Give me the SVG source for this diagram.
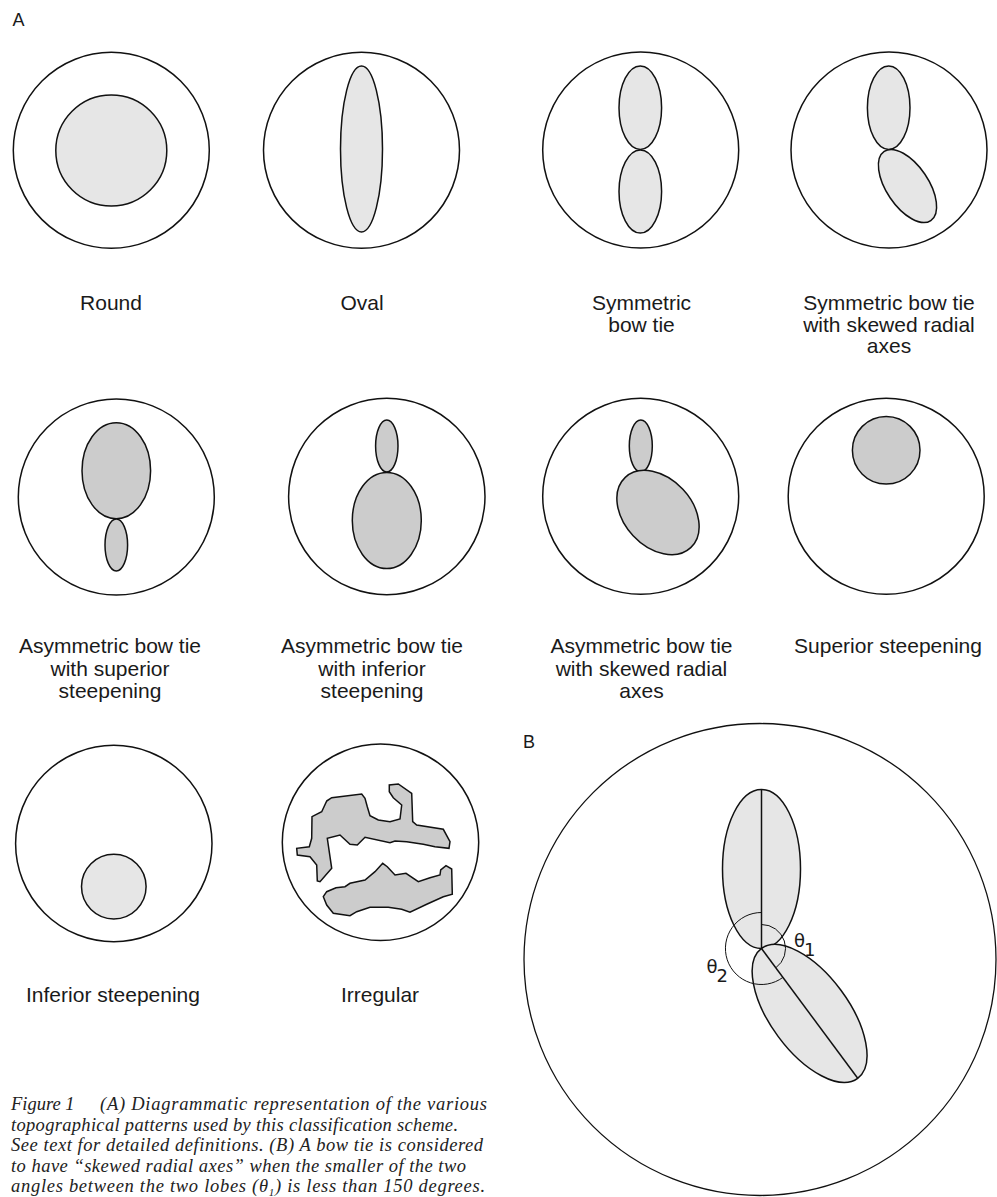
<svg xmlns="http://www.w3.org/2000/svg" width="997" height="1197" viewBox="0 0 997 1197">
<style>
.bg{fill:#ffffff}
.outer{fill:#ffffff;stroke:#111;stroke-width:1.5}
.lt{fill:#e6e6e6;stroke:#111;stroke-width:1.5}
.dk{fill:#cccccc;stroke:#111;stroke-width:1.5}
.ax{fill:none;stroke:#111;stroke-width:1.5}
.arc{fill:none;stroke:#111;stroke-width:1}
.lbl{font-family:"Liberation Sans",Arial,sans-serif;font-size:21px;fill:#1a1a1a;text-anchor:middle}
.pan{font-family:"Liberation Sans",Arial,sans-serif;font-size:18px;fill:#1a1a1a}
.th{font-family:"DejaVu Sans","Liberation Sans",sans-serif;font-size:18px;fill:#1a1a1a}
.cap{font-family:"Liberation Serif","Times New Roman",serif;font-style:italic;font-size:18.5px;fill:#222}
</style>
<rect class="bg" x="0" y="0" width="997" height="1197"/>
<text class="pan" x="12.5" y="26">A</text>
<text class="pan" x="523" y="748">B</text>

<g id="round">
<circle class="outer" cx="111.3" cy="150.3" r="98"/>
<circle class="lt" cx="111.3" cy="150.5" r="55.5"/>
<text class="lbl" x="111" y="310">Round</text>
</g>
<g id="oval">
<circle class="outer" cx="361.5" cy="150.3" r="98"/>
<ellipse class="lt" cx="361.5" cy="149" rx="21" ry="83"/>
<text class="lbl" x="362" y="310">Oval</text>
</g>
<g id="symmetric-bow-tie">
<circle class="outer" cx="640.7" cy="150" r="98"/>
<ellipse class="lt" cx="640.3" cy="107.7" rx="21.3" ry="41.7"/>
<ellipse class="lt" cx="640.3" cy="191.5" rx="21.3" ry="41.6"/>
<text class="lbl" x="641.5" y="310">Symmetric</text>
<text class="lbl" x="641.5" y="331.7">bow tie</text>
</g>
<g id="symmetric-bow-tie-skewed">
<circle class="outer" cx="889" cy="150" r="98"/>
<ellipse class="lt" cx="888.7" cy="107.7" rx="21.3" ry="41.7"/>
<ellipse class="lt" cx="907.5" cy="186" rx="21" ry="41.7" transform="rotate(-34 907.5 186)"/>
<text class="lbl" x="889" y="310">Symmetric bow tie</text>
<text class="lbl" x="889" y="331.7">with skewed radial</text>
<text class="lbl" x="889" y="353.3">axes</text>
</g>

<g id="asym-superior">
<circle class="outer" cx="116.3" cy="497" r="98"/>
<ellipse class="dk" cx="116.3" cy="470.7" rx="34.3" ry="48"/>
<ellipse class="dk" cx="116.3" cy="545" rx="11.3" ry="26"/>
<text class="lbl" x="110" y="653">Asymmetric bow tie</text>
<text class="lbl" x="110" y="675.5">with superior</text>
<text class="lbl" x="110" y="698">steepening</text>
</g>
<g id="asym-inferior">
<circle class="outer" cx="386.8" cy="496.5" r="98.2"/>
<ellipse class="dk" cx="386.8" cy="446" rx="11.2" ry="26"/>
<ellipse class="dk" cx="386.8" cy="520.5" rx="34.5" ry="48"/>
<text class="lbl" x="372" y="653">Asymmetric bow tie</text>
<text class="lbl" x="372" y="675.5">with inferior</text>
<text class="lbl" x="372" y="698">steepening</text>
</g>
<g id="asym-skewed">
<circle class="outer" cx="640.7" cy="496.3" r="98"/>
<ellipse class="dk" cx="640.8" cy="446" rx="11.5" ry="26"/>
<ellipse class="dk" cx="658" cy="512.5" rx="34" ry="48" transform="rotate(-43 658 512.5)"/>
<text class="lbl" x="641.5" y="653">Asymmetric bow tie</text>
<text class="lbl" x="641.5" y="675.5">with skewed radial</text>
<text class="lbl" x="641.5" y="698">axes</text>
</g>
<g id="superior-steepening">
<circle class="outer" cx="886.2" cy="496.3" r="98"/>
<circle class="dk" cx="886.2" cy="450.3" r="33.8"/>
<text class="lbl" x="888" y="653">Superior steepening</text>
</g>

<g id="inferior-steepening">
<circle class="outer" cx="113.8" cy="843.5" r="98.2"/>
<circle class="lt" cx="113.8" cy="886.6" r="32.3"/>
<text class="lbl" x="113" y="1002">Inferior steepening</text>
</g>
<g id="irregular">
<circle class="outer" cx="380.5" cy="842.3" r="98.2"/>
<path class="dk" d="M326.7 801 L331.7 797.7 L361.7 794 L365 798.3 L367.3 806.7 L370 815.7 L378.3 820 L390 821.7 L400 819 L401.7 805 L393.3 797.7 L389.3 791.7 L389.3 785 L398.3 784 L411.7 793.3 L412.7 821.7 L416.7 825 L443.3 829.3 L450 841.7 L449 848.3 L435 846.7 L423.3 844.3 L406.7 841.7 L395 841 L390 842.7 L365 837.3 L357.3 845 L350 844.3 L340 835 L327.3 838.3 L331.7 868.3 L320 881.7 L317.3 881 L316.7 865 L310 856.7 L297.3 855 L296.7 848.3 L309.3 846.7 L311.7 838.3 L312 816.7 L321.7 811.7 Z"/>
<path class="dk" d="M323.3 896.7 L326.7 891.7 L336 887.7 L345 886.7 L350 883.3 L365 880 L375 871.7 L382.7 863.3 L387.3 866.7 L395 875 L406 873.3 L418.3 881.7 L430 877.7 L440 875 L440.7 870 L446 865.7 L451.7 869 L452.3 894.3 L443.3 896.7 L426.7 904.3 L410 912.3 L401.7 909.3 L388.3 907.3 L370 907.3 L356.7 911.7 L350 915.7 L333.3 913.3 L326.7 905 Z"/>
<text class="lbl" x="380" y="1002">Irregular</text>
</g>

<g id="panel-b">
<circle cx="760" cy="959.5" r="236" fill="#fff" stroke="#111" stroke-width="1.3"/>
<ellipse class="lt" cx="761.5" cy="869" rx="39" ry="79.5"/>
<ellipse class="lt" cx="809.6" cy="1013.4" rx="39" ry="80.8" transform="rotate(-36.5 809.6 1013.4)"/>
<line class="ax" x1="761.5" y1="789.5" x2="761.5" y2="948.5"/>
<line class="ax" x1="761.5" y1="948.5" x2="857.7" y2="1078.3"/>
<path class="arc" d="M761.5 924.5 A24 24 0 0 1 775.8 967.8"/>
<path class="arc" d="M761.5 912.5 A36 36 0 1 0 782.9 977.4"/>
<text class="th" x="794" y="946.7">θ</text>
<text class="th" x="804" y="956">1</text>
<text class="th" x="706.5" y="972.7">θ</text>
<text class="th" x="716.5" y="981.7">2</text>
</g>

<g id="caption">
<text class="cap" y="1110"><tspan x="11">Figure 1</tspan><tspan x="100" textLength="387" lengthAdjust="spacing">(A) Diagrammatic representation of the various</tspan></text>
<text class="cap" x="11" y="1130.5" textLength="447" lengthAdjust="spacing">topographical patterns used by this classification scheme.</text>
<text class="cap" x="11" y="1151" textLength="472" lengthAdjust="spacing">See text for detailed definitions. (B) A bow tie is considered</text>
<text class="cap" x="11" y="1171.5" textLength="455" lengthAdjust="spacing">to have “skewed radial axes” when the smaller of the two</text>
<text class="cap" x="11" y="1192" textLength="474" lengthAdjust="spacing">angles between the two lobes (θ<tspan font-size="11" dy="4">1</tspan><tspan dy="-4">) is less than 150 degrees.</tspan></text>
</g>
</svg>
